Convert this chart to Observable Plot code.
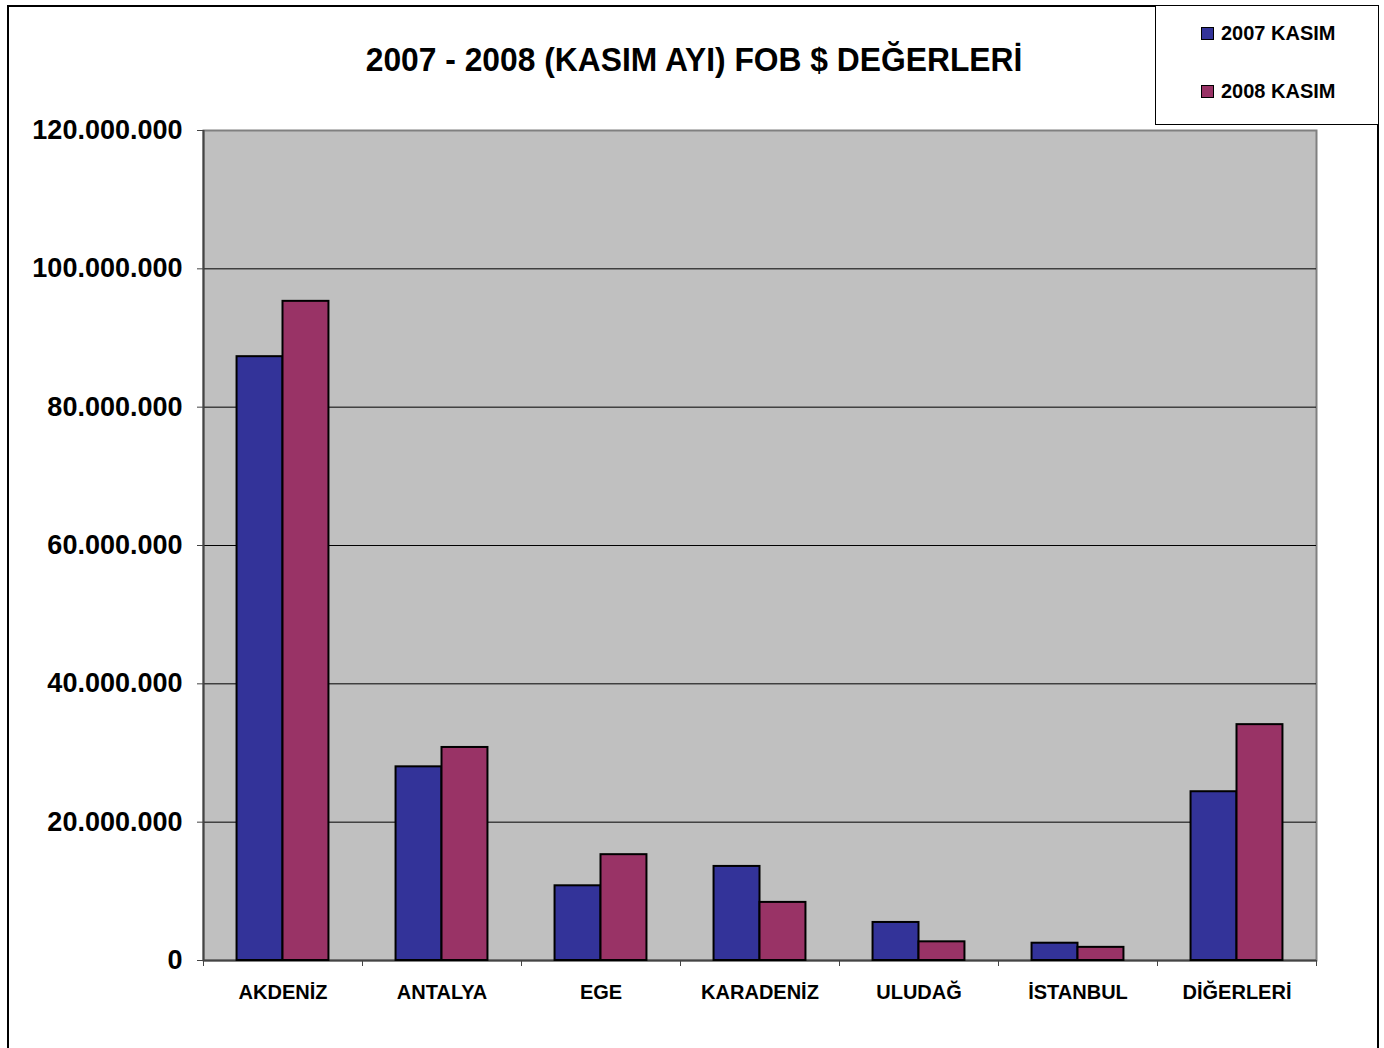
<!DOCTYPE html>
<html>
<head>
<meta charset="utf-8">
<script src="https://cdn.jsdelivr.net/npm/d3@7"></script>
<script src="https://cdn.jsdelivr.net/npm/@observablehq/plot@0.6"></script>
<style>
  html, body { margin: 0; padding: 0; background: #fff; }
  #wrap { position: relative; width: 1384px; height: 1048px; overflow: hidden; font-family: "Liberation Sans", Arial, sans-serif; }
  #title { position: absolute; left: 0; top: 40px; width: 1388px; text-align: center; font-weight: bold; font-size: 34px; color: #000; transform: scaleX(0.935); transform-origin: 694px 0; }
  .bl { position: absolute; background: #000; }
  #legend { position: absolute; left: 1155px; top: 5px; width: 222px; height: 118px; border: 1px solid #000; border-right: none; background: #fff; font-weight: bold; font-size: 20px; }
  .item { position: absolute; left: 45px; display: flex; align-items: center; }
  .sw { width: 11px; height: 11px; border: 1px solid #000; margin-right: 7px; }
  #chart { position: absolute; left: 0; top: 0; }
</style>
</head>
<body>
<div id="wrap">
  <div id="chart"></div>
  <div class="bl" style="left:7px; top:5px; width:2px; height:1043px;"></div>
  <div class="bl" style="left:7px; top:5px; width:1372px; height:2px;"></div>
  <div class="bl" style="left:1377px; top:5px; width:2px; height:1043px;"></div>
  <div id="title"></div>
  <div id="legend"></div>
</div>
<script>
const categories = ["AKDENİZ", "ANTALYA", "EGE", "KARADENİZ", "ULUDAĞ", "İSTANBUL", "DİĞERLERİ"];
const seriesNames = ["2007 KASIM", "2008 KASIM"];
const kasim2007 = [87.3e6, 28.0e6, 10.8e6, 13.6e6, 5.5e6, 2.5e6, 24.4e6];
const kasim2008 = [95.3e6, 30.8e6, 15.3e6, 8.4e6, 2.7e6, 1.9e6, 34.1e6];
const seriesColors = ["#333399", "#993366"];
const yTicks = [0, 20e6, 40e6, 60e6, 80e6, 100e6, 120e6];
const titleText = "2007 - 2008 (KASIM AYI) FOB $ DEĞERLERİ";

const seriesValues = [kasim2007, kasim2008];
const barW = 0.289; // bar width as fraction of category slot
const rows = [];
categories.forEach((c, i) => {
  seriesValues.forEach((vals, s) => {
    rows.push({cat: c, i, series: seriesNames[s], value: vals[i],
      x1: i + 0.5 - barW + s * barW, x2: i + 0.5 + s * barW});
  });
});

const fmt = v => v === 0 ? "0" : d3.format(",")(v).replace(/,/g, ".");

const chart = Plot.plot({
  width: 1384,
  height: 1048,
  marginLeft: 203,
  marginRight: 68,
  marginTop: 130,
  marginBottom: 88,
  style: {fontFamily: '"Liberation Sans", Arial, sans-serif', fontWeight: "bold", color: "#000", background: "transparent"},
  x: {domain: [0, categories.length]},
  y: {domain: [0, 120e6]},
  color: {domain: seriesNames, range: seriesColors},
  marks: [
    Plot.frame({fill: "#c0c0c0", stroke: "#808080", strokeWidth: 2}),
    Plot.gridY(yTicks.filter(t => t > 0 && t < 120e6), {stroke: "#000", strokeOpacity: 1, strokeWidth: 1}),
    Plot.ruleX([0], {stroke: "#444", strokeWidth: 2}),
    Plot.ruleY([0], {stroke: "#444", strokeWidth: 2}),
    Plot.rectY(rows, {x1: "x1", x2: "x2", y1: 0, y2: "value", fill: "series", stroke: "#000", strokeWidth: 2}),
    Plot.axisY({ticks: yTicks, tickFormat: fmt, tickSize: 6, tickPadding: 15, fontSize: 27, stroke: "#444", label: null}),
    Plot.axisX({ticks: d3.range(categories.length + 1), tickFormat: () => "", tickSize: 6, stroke: "#444", label: null}),
    Plot.axisX({ticks: categories.map((c, i) => i + 0.5), tickFormat: v => categories[Math.floor(v)], tickSize: 0, tickPadding: 24, fontSize: 20, label: null})
  ]
});
document.getElementById("chart").appendChild(chart);

document.getElementById("title").textContent = titleText;
const legend = document.getElementById("legend");
seriesNames.forEach((name, s) => {
  const it = document.createElement("div");
  it.className = "item";
  it.style.top = (s === 0 ? 16 : 74) + "px";
  const sw = document.createElement("div");
  sw.className = "sw";
  sw.style.background = seriesColors[s];
  const t = document.createElement("span");
  t.textContent = name;
  it.appendChild(sw);
  it.appendChild(t);
  legend.appendChild(it);
});
</script>
</body>
</html>
